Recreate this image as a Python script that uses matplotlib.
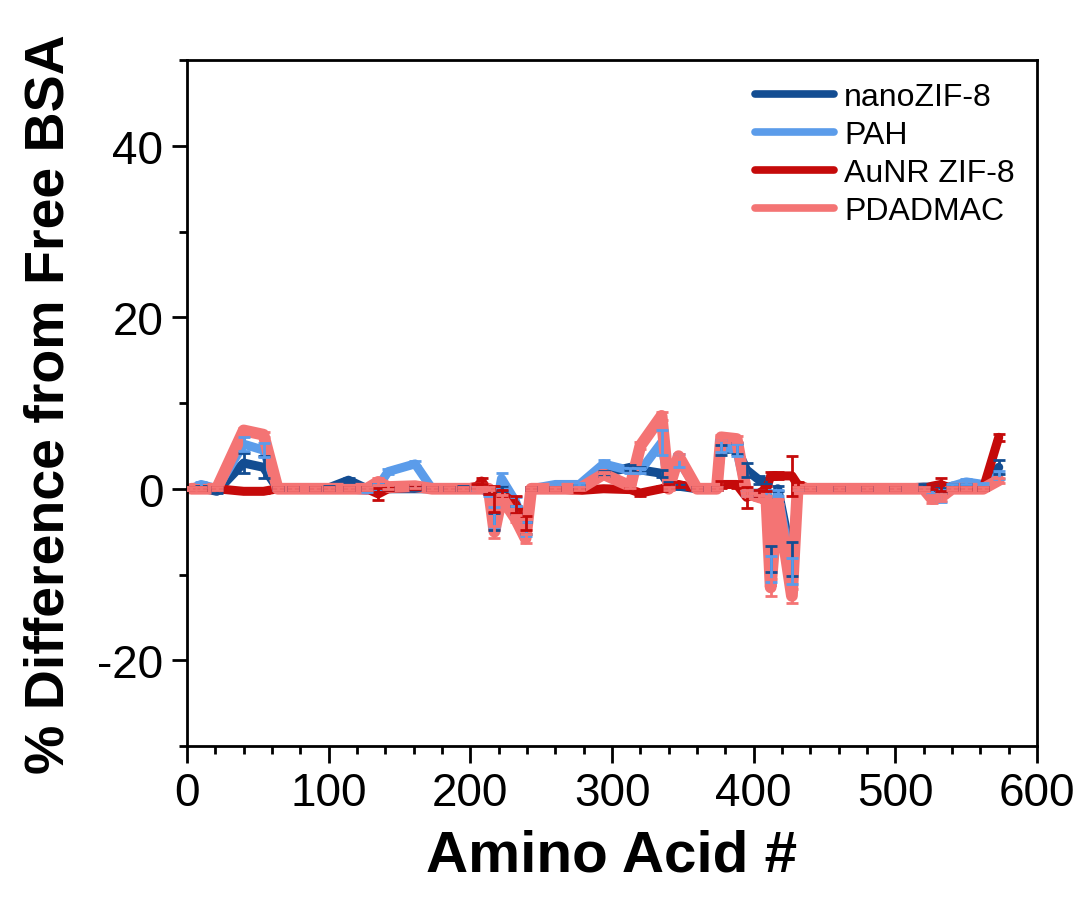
import matplotlib
matplotlib.use("Agg")
import matplotlib.pyplot as plt
from matplotlib.ticker import MultipleLocator

plt.rcParams['font.family'] = ['Liberation Sans', 'DejaVu Sans']
plt.rcParams['axes.unicode_minus'] = False

# Amino acid positions (peptide midpoints)
amino_acid = [3, 10, 21, 40, 54, 64, 75, 90, 100, 114, 127, 135, 142, 161, 173,
              185, 195, 205, 208, 213, 217, 222, 232, 239, 243, 260, 277, 294,
              313, 320, 335, 340, 347, 360, 374, 377, 388, 395, 404, 409, 412,
              417, 427, 431, 440, 460, 480, 500, 520, 526, 532, 540, 550, 562, 573]

nanozif8 = [0, 0.1, -0.3, 3.0, 2.5, 0, 0, 0, 0.1, 1.0, 0, 0.3, 0, 0, 0,
            0, 0.1, 0, 0, -0.3, -3.8, 0, -2.5, -4.6, 0, 0, 0.2, 1.8,
            2.5, 2.2, 1.8, 0.5, 0.3, 0, 0, 4.5, 4.7, 2.2, 1.0, 0.8, -8.2,
            0, -8.2, 0, 0, 0, 0, 0, 0.2, 0.2, -0.2, 0.3, 0.3, 0, 2.5]
nanozif8_err = [0.2, 0.2, 0.2, 1.2, 1.3, 0.2, 0.2, 0.2, 0.2, 0.2, 0.2, 0.3, 0.2, 0.2, 0.2,
                0.2, 0.2, 0.2, 0.2, 0.3, 1.0, 0.3, 0.5, 0.7, 0.2, 0.2, 0.2, 0.3,
                0.3, 0.3, 0.4, 0.3, 0.3, 0.2, 0.2, 0.6, 0.6, 0.8, 0.5, 0.3, 1.5,
                0.3, 2.0, 0.2, 0.2, 0.2, 0.2, 0.2, 0.3, 0.3, 0.3, 0.3, 0.3, 0.2, 0.8]

pah = [0, 0.5, 0, 5.2, 4.5, 0, 0, 0, 0, 0, -0.2, 0.3, 2.0, 2.9, 0,
       0, 0, 0, 0, -0.5, -3.3, 1.2, -1.5, -4.7, 0, 0.5, 0.5, 2.9,
       2.1, 2.1, 5.4, 0.3, 3.3, 0, 0, 5.0, 4.5, -0.5, -0.5, -0.5, -9.4,
       -0.5, -9.6, 0, 0, 0, 0, 0, 0, -0.3, -0.8, 0.3, 0.8, 0.5, 1.6]
pah_err = [0.2, 0.3, 0.2, 0.8, 0.8, 0.2, 0.2, 0.2, 0.2, 0.2, 0.2, 0.3, 0.3, 0.3, 0.2,
           0.2, 0.2, 0.2, 0.2, 0.3, 1.2, 0.6, 0.5, 0.8, 0.2, 0.2, 0.2, 0.4,
           0.3, 0.3, 1.5, 0.3, 0.8, 0.2, 0.2, 0.7, 0.7, 0.4, 0.3, 0.3, 1.5,
           0.3, 1.5, 0.2, 0.2, 0.2, 0.2, 0.2, 0.2, 0.3, 0.7, 0.3, 0.3, 0.2, 0.5]

aunr_zif8 = [0, 0, 0, -0.3, -0.3, 0, 0, 0, 0, 0, 0, -0.6, 0, 0.2, 0,
             0, 0, 0.3, 0.9, -0.3, -1.2, -0.5, -1.8, -4.0, 0, 0, -0.2, 0,
             -0.1, -0.5, 0, 0.3, 0.5, 0, 0, 0.5, 0.5, -1.0, -0.5, 0, 1.5,
             1.5, 1.5, 0.5, 0, 0, 0, 0, 0, 0.3, 0.5, 0, 0, 0, 6.0]
aunr_zif8_err = [0.2, 0.2, 0.2, 0.2, 0.2, 0.2, 0.2, 0.2, 0.2, 0.2, 0.2, 0.7, 0.2, 0.2, 0.2,
                 0.2, 0.2, 0.2, 0.3, 0.3, 1.5, 0.4, 1.0, 0.8, 0.2, 0.2, 0.2, 0.2,
                 0.2, 0.3, 0.3, 0.3, 0.3, 0.2, 0.2, 0.4, 0.4, 1.2, 0.4, 0.3, 0.4,
                 0.4, 2.3, 0.3, 0.2, 0.2, 0.2, 0.2, 0.2, 0.3, 0.8, 0.2, 0.2, 0.2, 0.4]

pdadmac = [0, 0, 0, 6.8, 6.3, 0, 0, 0, 0, 0, 0, 0.8, 0.2, 0.3, 0,
           0, 0, 0, 0, 0, -5.0, -1.0, -3.5, -5.8, 0, 0, 0, 1.7,
           0.3, 5.0, 8.5, 0, 3.8, 0, 0, 6.0, 5.8, -0.5, -1.0, -1.2, -11.5,
           -1.5, -12.5, 0, 0, 0, 0, 0, 0, -1.2, -1.0, 0, 0, 0, 1.0]
pdadmac_err = [0.2, 0.2, 0.2, 0.3, 0.3, 0.2, 0.2, 0.2, 0.2, 0.2, 0.2, 0.4, 0.2, 0.2, 0.2,
               0.2, 0.2, 0.2, 0.2, 0.2, 0.7, 0.3, 0.4, 0.5, 0.2, 0.2, 0.2, 0.3,
               0.2, 0.4, 0.5, 0.2, 0.3, 0.2, 0.2, 0.3, 0.3, 0.3, 0.3, 0.3, 1.0,
               0.3, 0.8, 0.2, 0.2, 0.2, 0.2, 0.2, 0.2, 0.5, 0.4, 0.2, 0.2, 0.2, 0.3]

series = [
    ("nanoZIF-8", nanozif8, nanozif8_err, "#134d92", 6.5),
    ("PAH", pah, pah_err, "#5b9cea", 6.5),
    ("AuNR ZIF-8", aunr_zif8, aunr_zif8_err, "#c50a0a", 6.5),
    ("PDADMAC", pdadmac, pdadmac_err, "#f47474", 8.5),
]

fig = plt.figure(figsize=(10.87, 9.03), dpi=100)
ax = fig.add_axes([187 / 1087, 1 - 747 / 903, 850 / 1087, 686 / 903])

handles = []
for name, vals, errs, color, lw in series:
    ax.plot(amino_acid, vals, color=color, lw=lw, solid_capstyle='round',
            solid_joinstyle='round', zorder=2)
    handles.append(plt.Line2D([], [], color=color, lw=5.5, solid_capstyle='round'))
# error bars drawn above all lines
for name, vals, errs, color, lw in series:
    ax.errorbar(amino_acid, vals, yerr=errs, fmt='none', ecolor=color,
                elinewidth=2, capsize=4.5, capthick=2, zorder=3)

ax.set_xlim(0, 600)
ax.set_ylim(-30, 50)
ax.xaxis.set_major_locator(MultipleLocator(100))
ax.xaxis.set_minor_locator(MultipleLocator(20))
ax.yaxis.set_major_locator(MultipleLocator(20))
ax.yaxis.set_minor_locator(MultipleLocator(10))
ax.tick_params(which='both', direction='out', width=2, labelsize=33)
ax.tick_params(which='major', length=11, pad=6)
ax.tick_params(which='minor', length=6)
ax.tick_params(axis='x', which='major', length=12)
for sp in ax.spines.values():
    sp.set_linewidth(2)

ax.set_xlabel("Amino Acid #", fontsize=42, fontweight='bold', labelpad=10)
ax.set_ylabel("% Difference from Free BSA", fontsize=40, fontweight='bold', labelpad=16)

ax.legend(handles, [s[0] for s in series], loc='upper right', frameon=False,
          fontsize=23, handlelength=2.5, handletextpad=0.3, labelspacing=0.25,
          borderaxespad=0.3)

fig.savefig("out.png", dpi=100)
